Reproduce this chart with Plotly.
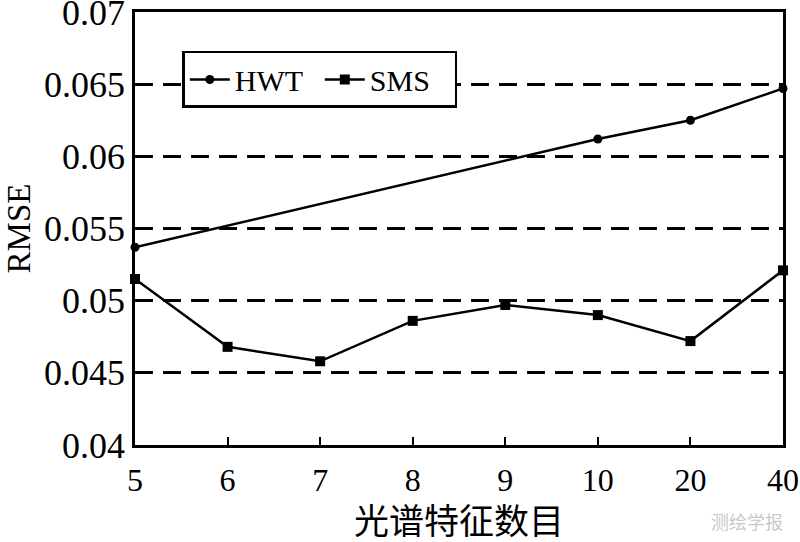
import plotly.graph_objects as go

categories = ['5', '6', '7', '8', '9', '10', '20', '40']
hwt = [0.0537, None, None, None, None, 0.0612, 0.0625, 0.0647]
sms = [0.0515, 0.0468, 0.0458, 0.0486, 0.0497, 0.0490, 0.0472, 0.0521]
y_ticks = [0.04, 0.045, 0.05, 0.055, 0.06, 0.065, 0.07]
y_labels = ['0.04', '0.045', '0.05', '0.055', '0.06', '0.065', '0.07']

FONT = 'Liberation Serif, Noto Sans CJK SC'

fig = go.Figure()
fig.add_trace(go.Scatter(
    x=categories, y=hwt, name='HWT', mode='lines+markers', connectgaps=True,
    line=dict(color='black', width=2.5),
    marker=dict(symbol='circle', size=9, color='black'),
    cliponaxis=False,
))
fig.add_trace(go.Scatter(
    x=categories, y=sms, name='SMS', mode='lines+markers',
    line=dict(color='black', width=2.5),
    marker=dict(symbol='square', size=10, color='black'),
    cliponaxis=False,
))

fig.update_layout(
    width=800, height=542,
    margin=dict(l=135, r=17, t=12, b=97, autoexpand=False),
    paper_bgcolor='white', plot_bgcolor='white',
    font=dict(family=FONT, color='black', size=32),
    showlegend=True,
    legend=dict(
        orientation='h', x=0.073, y=0.91, xanchor='left', yanchor='top',
        bordercolor='black', borderwidth=2.5, bgcolor='white',
        font=dict(family=FONT, size=30), itemwidth=40,
        entrywidth=80, entrywidthmode='pixels',
    ),
    xaxis=dict(
        type='category', range=[0, 7], automargin=False,
        showline=True, linecolor='black', linewidth=2.5, mirror=True,
        ticks='inside', ticklen=8, tickwidth=2, tickcolor='black',
        showgrid=False, zeroline=False, ticklabeloverflow='allow',
        ticklabelstandoff=5,
        tickfont=dict(family=FONT, size=32),
        title=dict(text='光谱特征数目', font=dict(family=FONT, size=35), standoff=15),
    ),
    yaxis=dict(
        range=[0.04, 0.07], automargin=False,
        tickvals=y_ticks, ticktext=y_labels, ticklabeloverflow='allow',
        showline=True, linecolor='black', linewidth=2.5, mirror=True,
        ticks='inside', ticklen=8, tickwidth=2, tickcolor='black',
        showgrid=True, gridcolor='black', gridwidth=2.5, griddash='18px,10px',
        zeroline=False,
        tickfont=dict(family=FONT, size=36),
        title=dict(text='RMSE', font=dict(family=FONT, size=33), standoff=4),
    ),
)

fig.add_annotation(
    text='测绘学报', xref='paper', yref='paper', x=1.003, y=-0.175,
    xanchor='right', yanchor='middle', showarrow=False,
    font=dict(family='Noto Sans CJK SC', size=18, color='#c8c8c8'),
)

# the page body has a default 8px margin; drop it so the figure sits at 0,0
fig.write_html('out.html', config={'displayModeBar': False},
               post_script="document.body.style.margin='0';")
